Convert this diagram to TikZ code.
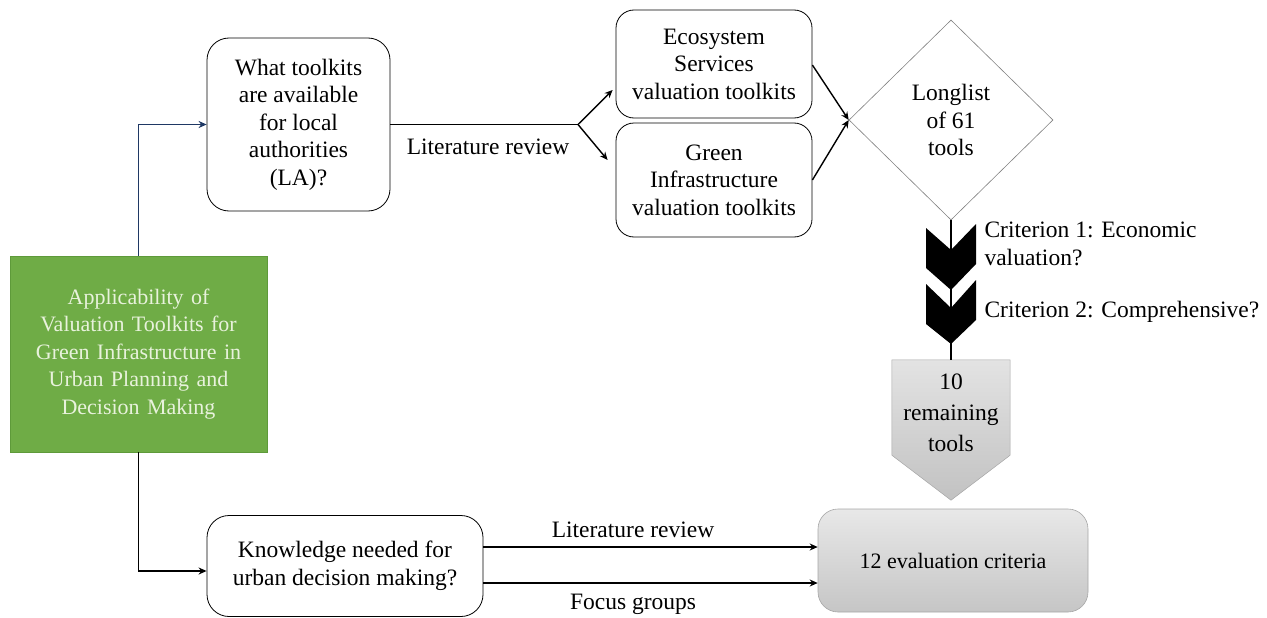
\documentclass[tikz,border=0pt]{standalone}
\usepackage{fontspec}
\setmainfont{Liberation Serif}
\usetikzlibrary{shapes.geometric,arrows.meta,calc}
\definecolor{gigreen}{HTML}{6FAC46}
\definecolor{gigreenline}{HTML}{5E9A3A}
\definecolor{gitext}{HTML}{E8F2DC}
\definecolor{navyline}{HTML}{1F3864}
\definecolor{greyline}{HTML}{A6A6A6}
\tikzset{
  txt/.style={font=\fontsize{23.5}{27.5}\selectfont, align=center},
  qbox/.style={txt, draw=black, line width=0.8pt, rounded corners=22pt, fill=white, inner sep=2pt},
  arr/.style={line width=1.4pt, -{Stealth[length=8pt,width=7pt]}},
  navyarr/.style={draw=navyline, line width=1.8pt, -{Stealth[length=8pt,width=7pt]}},
  chev/.style={fill=black, draw=none},
}
\begin{document}
\begin{tikzpicture}[x=1pt,y=-1pt]
\useasboundingbox (0,0) rectangle (1267,618);
% green main box
\node[txt, font=\fontsize{22}{27.5}\selectfont, fill=gigreen, draw=gigreenline, text=gitext, minimum width=257pt, minimum height=196pt, text width=250pt, inner sep=0pt] (green) at (138.5,354) {Applicability of\\Valuation Toolkits for\\Green Infrastructure in\\Urban Planning and\\Decision Making};
% question boxes
\node[qbox, minimum width=183pt, minimum height=173pt] (q1) at (298.5,124.5) {What toolkits\\are available\\for local\\authorities\\(LA)?};
\node[qbox, minimum width=276pt, minimum height=101pt] (q2) at (345,566) {Knowledge needed for\\urban decision making?};
% toolkit boxes
\node[qbox, rounded corners=18pt, minimum width=196pt, minimum height=108pt] (es) at (714,64) {Ecosystem\\Services\\valuation toolkits};
\node[qbox, rounded corners=18pt, minimum width=196pt, minimum height=114pt] (gi) at (714,180) {Green\\Infrastructure\\valuation toolkits};
% diamond
\node[txt, diamond, draw=gray, line width=0.6pt, minimum width=204pt, minimum height=200pt, inner sep=0pt] (dia) at (951,120) {Longlist\\of 61\\tools};
% remaining tools pentagon
\node[txt, minimum width=118pt, minimum height=95pt, inner sep=0pt] (rem) at (951,407.5) {};
\shade[top color=gray!22, bottom color=gray!48, draw=greyline, line width=0.5pt]
  (rem.north west) -- (rem.north east) -- (rem.south east) -- ($(rem.south)+(0,45)$) -- (rem.south west) -- cycle;
\node[txt, font=\fontsize{23.5}{31}\selectfont] at ([yshift=-5pt]rem.center) {10\\remaining\\tools};
% evaluation criteria
\node[txt, font=\fontsize{22}{27.5}\selectfont, rounded corners=20pt, top color=gray!18, bottom color=gray!45, draw=greyline, line width=0.6pt, minimum width=270pt, minimum height=103pt] (crit) at (953,560.5) {12 evaluation criteria};
% line from diamond to remaining tools
\draw[line width=1.4pt] (dia.south) -- (rem.north);
% chevrons
\fill[chev] (926,228) -- (951,250) -- (976,224) -- (976,264) -- (951,290) -- (926,268) -- cycle;
\fill[chev] (926,284) -- (951,308) -- (976,280) -- (976,320) -- (951,344) -- (926,324) -- cycle;
\draw[line width=1.4pt] (951,220) -- (951,360);
\node[txt, align=left, anchor=west] (c1) at (981,244) {Criterion 1: Economic\\valuation?};
\node[txt, align=left, anchor=west] (c2) at (981,312) {Criterion 2: Comprehensive?};
% connectors
\draw[navyarr] (green.north) |- (q1.west);
\draw[arr] (green.south) |- ([yshift=-5pt]q2.west);
\coordinate (fork) at (578,124.5);
\draw[line width=1.4pt] (q1.east) -- (fork);
\node[txt] (lr1) at (488,147) {Literature review};
\draw[arr] (fork) -- ([yshift=-26pt,xshift=-3pt]es.west);
\draw[arr] (fork) -- ([yshift=20pt,xshift=-8pt]gi.west);
\draw[arr] ([yshift=-1pt]es.east) -- (dia.west);
\draw[arr] (gi.east) -- (dia.west);
\draw[arr] ([yshift=19pt]q2.east) coordinate (a1) -- (a1 -| crit.west);
\draw[arr] ([yshift=-17pt]q2.east) coordinate (a2) -- (a2 -| crit.west);
\node[txt] (lr2) at (633,530) {Literature review};
\node[txt] (fg) at (633,604) {Focus groups};
\end{tikzpicture}
\end{document}
